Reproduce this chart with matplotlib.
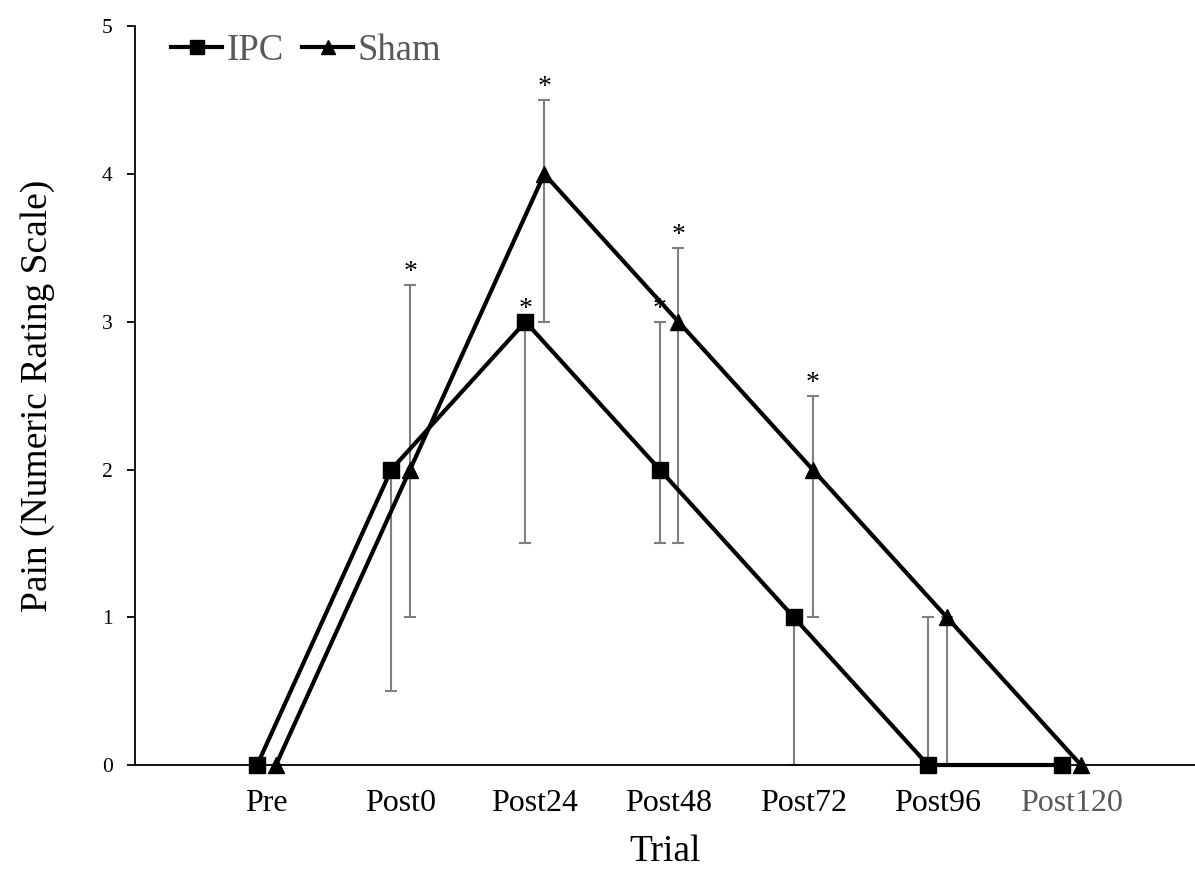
import numpy as np
import matplotlib
matplotlib.use('Agg')
import matplotlib.pyplot as plt

plt.rcParams['font.family'] = ['Liberation Serif', 'DejaVu Serif']

trials = ['Pre', 'Post0', 'Post24', 'Post48', 'Post72', 'Post96', 'Post120']

ipc = [0, 2, 3, 2, 1, 0, 0]
ipc_low = [0, 0.5, 1.5, 1.5, 0, 0, 0]
ipc_high = [0, 2, 3, 3, 1, 1, 0]

sham = [0, 2, 4, 3, 2, 1, 0]
sham_low = [0, 1, 3, 1.5, 1, 0, 0]
sham_high = [0, 3.25, 4.5, 3.5, 2.5, 1, 0]

# which points get a significance star
ipc_stars = [2, 3]
sham_stars = [1, 2, 3, 4]

x = np.arange(len(trials))
off = 0.07

fig = plt.figure(figsize=(11.95, 8.75), dpi=100)
ax = fig.add_axes([0.113, 0.1257, 0.887, 0.8443])

err_col = '#7f7f7f'


def draw(xs, vals, lo, hi, marker, label):
    vals = np.array(vals)
    yerr = [vals - np.array(lo), np.array(hi) - vals]
    ax.errorbar(xs, vals, yerr=yerr, fmt='none', ecolor=err_col,
                elinewidth=1.5, capsize=4.3, capthick=1.5, zorder=2)
    ax.plot(xs, vals, color='black', lw=3, marker=marker, markersize=12,
            label=label, zorder=3, clip_on=False)


draw(x - off, ipc, ipc_low, ipc_high, 's', 'IPC')
draw(x + off, sham, sham_low, sham_high, '^', 'Sham')


def stars(xs, vals, hi, idx):
    for i in idx:
        top = max(vals[i], hi[i])
        ax.annotate('*', (xs[i], top), xytext=(0, 9), textcoords='offset points',
                    ha='center', va='center', fontsize=20)


stars(x - off, ipc, ipc_high, ipc_stars)
stars(x + off, sham, sham_high, sham_stars)

ax.set_xlim(-0.98, 6.92)
ax.set_ylim(0, 5)
ax.set_yticks(range(6))
ax.set_xticks(x)
ax.set_xticklabels(trials)
ax.get_xticklabels()[-1].set_color('#595959')

for s in ['top', 'right']:
    ax.spines[s].set_visible(False)
ax.spines['left'].set_linewidth(1.3)
ax.spines['bottom'].set_linewidth(1.3)

ax.tick_params(axis='x', length=0, pad=17, labelsize=23)
ax.tick_params(axis='y', length=6, width=1.3, pad=10, labelsize=15.5)

ax.set_xlabel('Trial', fontsize=27, labelpad=12)
ax.set_ylabel('Pain (Numeric Rating Scale)', fontsize=27, labelpad=34)

leg = ax.legend(loc='upper left', bbox_to_anchor=(0.02, 1.01), ncol=2, frameon=False,
                fontsize=26.5, handlelength=1.4, handletextpad=0.1,
                columnspacing=0.5, borderaxespad=0, markerscale=0.8)
for t in leg.get_texts():
    t.set_color('#595959')

fig.savefig('out.png', dpi=100)
